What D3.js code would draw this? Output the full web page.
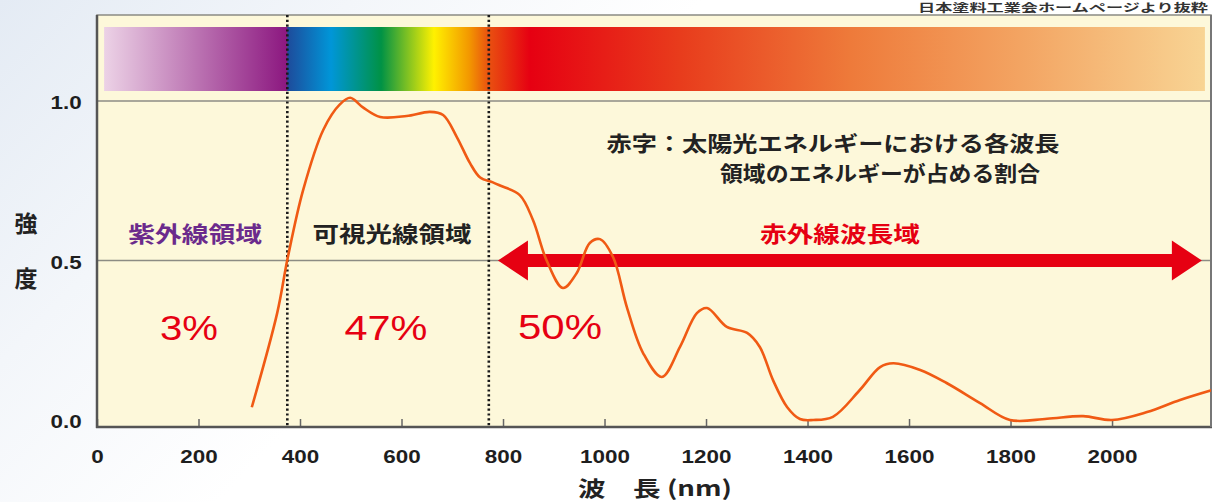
<!DOCTYPE html>
<html><head><meta charset="utf-8">
<script src="https://cdn.jsdelivr.net/npm/d3@7"></script>
<style>
html,body{margin:0;padding:0;background:#fff;overflow:hidden}
svg{display:block}
</style></head>
<body>
<svg id="c" width="1213" height="502"></svg>
<script>
// ---------------- data ----------------
const wavelengths = [305,355,376,406,446,479,499,524,558,610,656,682,709,735,755,780,794,833,859,886,918,945,971,991,1017,1044,1076,1113,1149,1182,1202,1241,1281,1306,1332,1360,1385,1411,1450,1503,1543,1569,1622,1674,1740,1799,1872,1943,2000,2069,2134,2197];
const intensity   = [0.04,0.335,0.51,0.72,0.91,0.99,1.01,0.98,0.95,0.953,0.966,0.956,0.887,0.805,0.76,0.745,0.735,0.705,0.627,0.50,0.414,0.46,0.555,0.567,0.51,0.354,0.21,0.135,0.23,0.335,0.351,0.292,0.273,0.229,0.125,0.04,0.003,0,0.01,0.094,0.166,0.178,0.157,0.116,0.053,0.0,0.004,0.012,0.0,0.025,0.063,0.094];
const xTicks = [0,200,400,600,800,1000,1200,1400,1600,1800,2000];
const yTicks = [0,0.5,1.0];
const yTickLabels = ["0.0","0.5","1.0"];
const gridValues = [0.5,1.0];
const regionBounds = [375,772];          // UV | visible | IR boundaries (nm)
const regionNames = ["紫外線領域","可視光線領域"];
const regionShares = ["3%","47%","50%"];
const irLabel = "赤外線波長域";
const irArrow = [790,2177];              // nm extent of IR arrow, at intensity 0.5
const noteLines = ["赤字：太陽光エネルギーにおける各波長","領域のエネルギーが占める割合"];
const yTitle = ["強","度"];
const xTitle = "波　長 (nm)";
const sourceText = "日本塗料工業会ホームページより抜粋";
const spectrumNm = [14,2183];
const spectrumStops = [
  [14,"#ecd2e6"],[374,"#8c1880"],[376,"#1d4c9c"],[461,"#0096d8"],[560,"#009245"],
  [664,"#fff100"],[733,"#f39800"],[772,"#e95010"],[853,"#e60012"],[1149,"#e83c1c"],
  [1484,"#ee7a3a"],[1819,"#f3a462"],[2183,"#f8d494"]
];

// ---------------- layout ----------------
const svg = d3.select("#c");
const L = 97, R = 1211, T = 15, B = 427;
const x = d3.scaleLinear().domain([0,2195]).range([L,R]);
const y = d3.scaleLinear().domain([0,1]).range([420,101]);
const CJK = "'Noto Sans CJK JP','Noto Sans CJK SC',sans-serif";
const LAT = "'Liberation Sans',Arial,sans-serif";

const defs = svg.append("defs");
// page background tint
const bg = defs.append("linearGradient").attr("id","bg").attr("x1","0").attr("y1","0").attr("x2","1").attr("y2","0.4");
bg.append("stop").attr("offset","0").attr("stop-color","#e4ebf4");
bg.append("stop").attr("offset","0.25").attr("stop-color","#f3f6fa");
bg.append("stop").attr("offset","0.5").attr("stop-color","#ffffff");
svg.append("rect").attr("width",1213).attr("height",502).attr("fill","url(#bg)");

// spectrum gradient
const sg = defs.append("linearGradient").attr("id","spec").attr("x1","0").attr("x2","1").attr("y1","0").attr("y2","0");
const sx0 = x(spectrumNm[0]), sx1 = x(spectrumNm[1]);
spectrumStops.forEach(([nm,c])=>{
  sg.append("stop").attr("offset",((x(nm)-sx0)/(sx1-sx0)).toFixed(4)).attr("stop-color",c);
});
defs.append("clipPath").attr("id","clip").append("rect").attr("x",L).attr("y",T).attr("width",R-L).attr("height",B-T);

// frame
svg.append("rect").attr("x",L).attr("y",T).attr("width",R-L).attr("height",B-T)
  .attr("fill","#fdf8da").attr("stroke","#8a8a84").attr("stroke-width",1.5);

// spectrum bar
svg.append("rect").attr("x",sx0).attr("y",27).attr("width",sx1-sx0).attr("height",64).attr("fill","url(#spec)");

// grid lines
svg.selectAll(".grid").data(gridValues).enter().append("line")
  .attr("x1",L).attr("x2",R).attr("y1",d=>y(d)).attr("y2",d=>y(d))
  .attr("stroke","#8c8c84").attr("stroke-width",1.3);

// region boundaries
svg.selectAll(".bound").data(regionBounds).enter().append("line")
  .attr("x1",d=>x(d)).attr("x2",d=>x(d)).attr("y1",T).attr("y2",B)
  .attr("stroke","#1a1a1a").attr("stroke-width",2.6).attr("stroke-dasharray","2.2,2.6");

// x axis
const xa = svg.append("g").attr("transform",`translate(0,${B})`)
  .call(d3.axisBottom(x).tickValues(xTicks).tickSize(-8).tickPadding(20).tickFormat(d3.format("d")));
xa.select(".domain").remove();
xa.selectAll(".tick line").attr("stroke","#666").attr("stroke-width",1.5);
xa.selectAll(".tick text").attr("font-family",LAT).attr("font-weight","bold").attr("font-size",19)
  .attr("fill","#1e1e1e").attr("dy","0.35em").attr("y",29).attr("transform","scale(1.18,1)");

// y axis
const ya = svg.append("g").attr("transform",`translate(${L},0)`)
  .call(d3.axisLeft(y).tickValues(yTicks).tickSize(0).tickPadding(13).tickFormat((d,i)=>yTickLabels[i]));
ya.select(".domain").remove();
ya.selectAll(".tick text").attr("font-family",LAT).attr("font-weight","bold").attr("font-size",19)
  .attr("fill","#1e1e1e").attr("dy","0.4em").attr("transform","scale(1.18,1)");

// axis lines
svg.append("line").attr("x1",L).attr("x2",L).attr("y1",T).attr("y2",B+1).attr("stroke","#555").attr("stroke-width",2.5);
svg.append("line").attr("x1",L-1).attr("x2",R+1).attr("y1",B).attr("y2",B).attr("stroke","#555").attr("stroke-width",2.5);
svg.append("line").attr("x1",R).attr("x2",R).attr("y1",T).attr("y2",B).attr("stroke","#777").attr("stroke-width",2);

// IR arrow
const ay = y(0.5);
const ax0 = x(irArrow[0]), ax1 = x(irArrow[1]);
const head = 30, hh = 20, sh = 6.5;
svg.append("path").attr("fill","#e60012").attr("d",
  `M${ax0},${ay} L${ax0+head},${ay-hh} L${ax0+head},${ay-sh} L${ax1-head},${ay-sh} L${ax1-head},${ay-hh} L${ax1},${ay} L${ax1-head},${ay+hh} L${ax1-head},${ay+sh} L${ax0+head},${ay+sh} L${ax0+head},${ay+hh} Z`);

// curve
const pts = wavelengths.map((w,i)=>[w,intensity[i]]);
svg.append("path").attr("clip-path","url(#clip)").datum(pts)
  .attr("fill","none").attr("stroke","#f05a14").attr("stroke-width",2.6).attr("stroke-linejoin","round")
  .attr("d",d3.line().x(d=>x(d[0])).y(d=>y(d[1])).curve(d3.curveCatmullRom.alpha(0.5)));

// texts
function label(cx,cy,str,opt){
  const t = svg.append("text").attr("x",cx).attr("y",cy).text(str)
    .attr("font-family",opt.family||CJK).attr("font-size",opt.size).attr("font-weight",opt.weight||"bold")
    .attr("fill",opt.color||"#222").attr("text-anchor",opt.anchor||"middle").attr("dominant-baseline","central");
  if(opt.width) t.attr("textLength",opt.width).attr("lengthAdjust","spacingAndGlyphs");
  return t;
}
// region names
label((x(0)+x(regionBounds[0]))/2+3, 232, regionNames[0], {size:22, color:"#6b2a8c", width:134});
label((x(regionBounds[0])+x(regionBounds[1]))/2+4, 232, regionNames[1], {size:22, color:"#222", width:159});
label(840, 232, irLabel, {size:22, color:"#e60012", width:160});
// shares
label(189, 327, regionShares[0], {size:35, family:LAT, weight:"normal", color:"#e60012", width:58});
label(386, 327, regionShares[1], {size:35, family:LAT, weight:"normal", color:"#e60012", width:83});
label(560, 326, regionShares[2], {size:35, family:LAT, weight:"normal", color:"#e60012", width:84});
// note
label(833, 142, noteLines[0], {size:21, width:453});
label(880, 172, noteLines[1], {size:21, width:320});
// axis titles
label(26, 222, yTitle[0], {size:23});
label(26, 277, yTitle[1], {size:23});
label(655, 487, xTitle, {size:21, width:154});
// source note (top right)
svg.append("text").attr("x",1208).attr("y",12).attr("text-anchor","end").text(sourceText)
  .attr("font-family",CJK).attr("font-size",11).attr("font-weight","bold").attr("fill","#333")
  .attr("textLength",290).attr("lengthAdjust","spacingAndGlyphs");
</script>
</body></html>
